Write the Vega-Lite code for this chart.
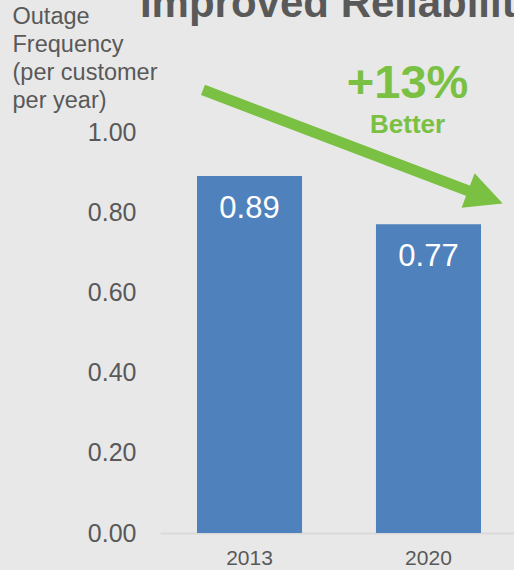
{
  "$schema": "https://vega.github.io/schema/vega-lite/v6.json",
  "width": 358,
  "height": 401,
  "autosize": "none",
  "padding": {"left": 160, "top": 132, "right": 0, "bottom": 37},
  "background": "#e8e8e8",
  "config": {"view": {"stroke": null}, "font": "Liberation Sans"},
  "resolve": {"scale": {"x": "independent"}},
  "layer": [
    {
      "data": {"values": [{"year": "2013", "value": 0.89}, {"year": "2020", "value": 0.77}]},
      "encoding": {
        "x": {"field": "year", "type": "nominal", "sort": null,
          "scale": {"paddingInner": 0.413, "paddingOuter": 0.2067},
          "axis": {"title": null, "labelAngle": 0, "labelFontSize": 21, "labelColor": "#595959", "labelPadding": 14, "ticks": false, "domain": true, "domainColor": "#d9d9d9", "domainWidth": 2, "grid": false}},
        "y": {"field": "value", "type": "quantitative",
          "scale": {"domain": [0, 1], "nice": false},
          "axis": {"values": [0, 0.2, 0.4, 0.6, 0.8, 1.0], "format": ".2f", "grid": false, "domain": false, "ticks": false,
            "labelFontSize": 25, "labelColor": "#595959", "labelPadding": 24,
            "title": ["Outage", "Frequency", "(per customer", "per year)"],
            "titleAngle": 0, "titleAlign": "left", "titleBaseline": "alphabetic", "titleX": -148, "titleY": -109,
            "titleFontSize": 23.5, "titleFontWeight": "normal", "titleColor": "#595959", "titleLineHeight": 28}}
      },
      "layer": [
        {"mark": {"type": "bar", "color": "#4f81bd"}},
        {"mark": {"type": "text", "color": "white", "fontSize": 31, "baseline": "alphabetic", "dy": 42, "align": "center"},
         "encoding": {"text": {"field": "value", "type": "quantitative", "format": ".2f"}}}
      ]
    },
    {
      "data": {"values": [{"u": 0.24, "v": 1.105, "u2": 1.8, "v2": 0.84}]},
      "mark": {"type": "rule", "color": "#7ac143", "strokeWidth": 11, "strokeCap": "butt"},
      "encoding": {
        "x": {"field": "u", "type": "quantitative", "scale": {"domain": [0, 2], "nice": false, "zero": false}, "axis": null},
        "y": {"field": "v", "type": "quantitative", "scale": {"domain": [0, 1], "nice": false}},
        "x2": {"field": "u2"},
        "y2": {"field": "v2"}
      }
    },
    {
      "data": {"values": [{"u": 1.818, "v": 0.838}]},
      "mark": {"type": "point", "shape": "M-1,-1L1,0L-1,1Z", "size": 1369, "angle": 20.6, "filled": true, "opacity": 1, "color": "#7ac143", "strokeWidth": 0},
      "encoding": {
        "x": {"field": "u", "type": "quantitative", "scale": {"domain": [0, 2], "nice": false, "zero": false}, "axis": null},
        "y": {"field": "v", "type": "quantitative", "scale": {"domain": [0, 1], "nice": false}}
      }
    },
    {
      "data": {"values": [
        {"u": 1.383, "v": 1.085, "label": "+13%", "kind": "pct"},
        {"u": 1.383, "v": 0.998, "label": "Better", "kind": "better"}
      ]},
      "mark": {"type": "text", "fontWeight": "bold", "align": "center", "baseline": "alphabetic", "color": "#7ac143"},
      "encoding": {
        "x": {"field": "u", "type": "quantitative", "scale": {"domain": [0, 2], "nice": false, "zero": false}, "axis": null},
        "y": {"field": "v", "type": "quantitative", "scale": {"domain": [0, 1], "nice": false}},
        "text": {"field": "label"},
        "size": {"field": "kind", "type": "nominal", "scale": {"domain": ["pct", "better"], "range": [47, 26]}, "legend": null}
      }
    },
    {
      "data": {"values": [{"u": -0.112, "v": 1.287, "label": "Improved Reliability"}]},
      "mark": {"type": "text", "fontWeight": "bold", "align": "left", "baseline": "alphabetic", "color": "#595959", "fontSize": 42},
      "encoding": {
        "x": {"field": "u", "type": "quantitative", "scale": {"domain": [0, 2], "nice": false, "zero": false}, "axis": null},
        "y": {"field": "v", "type": "quantitative", "scale": {"domain": [0, 1], "nice": false}},
        "text": {"field": "label"}
      }
    }
  ]
}
